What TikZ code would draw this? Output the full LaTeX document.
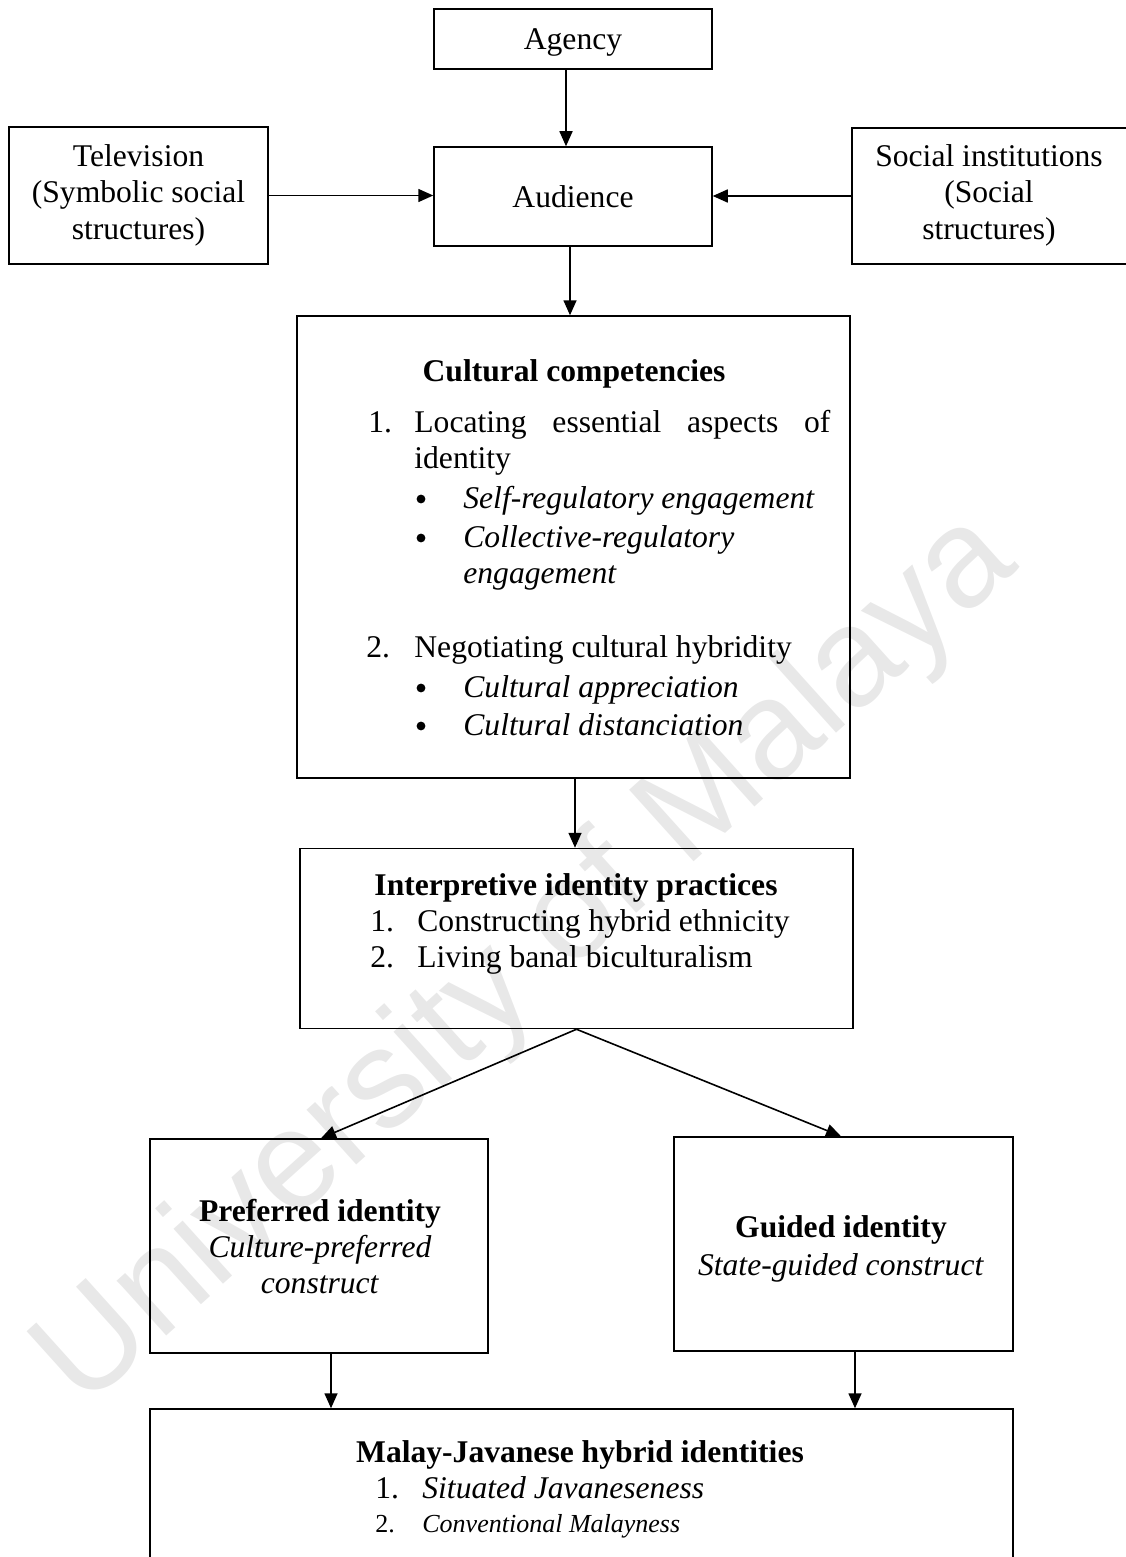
\documentclass[tikz,border=0pt]{standalone}
\usepackage{fontspec}
\setmainfont{Liberation Serif}
\newfontfamily\wmfont{Liberation Sans}
\usetikzlibrary{arrows.meta}
\newcommand\mainfs{\fontsize{15.8}{19}\selectfont}
\newcommand\smallfs{\fontsize{13}{16}\selectfont}
\begin{document}
\begin{tikzpicture}[x=0.5pt,y=-0.5pt,
  box/.style={draw,line width=0.75pt,inner sep=0pt},
  txt/.style={anchor=base,inner sep=0pt,font=\mainfs},
  txtl/.style={anchor=base west,inner sep=0pt,font=\mainfs},
  dot/.style={circle,fill=black,inner sep=0pt,minimum size=4.4pt},
  arr/.style={line width=0.8pt,-{Triangle[length=7.5pt,width=6.5pt]}}
]
\useasboundingbox (0,0) rectangle (1125,1557);

% watermark
\node[rotate=42,inner sep=0pt,text=black!9,font=\wmfont\fontsize{70}{74}\selectfont] (wm) at (528,962) {University of Malaya};

% boxes
\node[box,minimum width=139pt,minimum height=30pt] (agency) at (573,39) {};
\node[box,minimum width=129.5pt,minimum height=68.5pt] (tv) at (138.5,195.5) {};
\node[box,minimum width=139pt,minimum height=49.5pt] (aud) at (573,196.5) {};
\node[box,minimum width=139pt,minimum height=68pt] (soc) at (991,196) {};
\node[box,minimum width=276.5pt,minimum height=231pt] (cult) at (573.5,547) {};
\node[box,minimum width=276.5pt,minimum height=90pt] (interp) at (576.5,938.5) {};
\node[box,minimum width=169pt,minimum height=107pt] (pref) at (319,1246) {};
\node[box,minimum width=169.5pt,minimum height=107pt] (guid) at (843.5,1244) {};
\node[box,minimum width=431.5pt,minimum height=95.5pt] (malay) at (581.5,1504.5) {};

% texts
\node[txt] (agencyT) at (573,50) {Agency};
\node[txt] (audT) at (573,208) {Audience};
\node[txt] (tvA) at (138.5,167) {Television};
\node[txt] (tvB) at (138.5,203) {(Symbolic social};
\node[txt] (tvC) at (138.5,240) {structures)};
\node[txt] (socA) at (989,167) {Social institutions};
\node[txt] (socB) at (989,203) {(Social};
\node[txt] (socC) at (989,240) {structures)};

\node[txt] (cultT) at (574,381) {\textbf{Cultural competencies}};
\node[txtl] (c1n) at (368,432) {1.};
\node[txtl] (c1) at (414,432) {\makebox[208pt][s]{Locating essential aspects of}};
\node[txtl] (c1b) at (414,468) {identity};
\node[dot] (b1) at (421,499) {};
\node[txtl] (c1x) at (463,508) {\textit{Self-regulatory engagement}};
\node[dot] (b2) at (421,538) {};
\node[txtl] (c1y) at (463,547) {\textit{Collective-regulatory}};
\node[txtl] (c1z) at (463,583) {\textit{engagement}};
\node[txtl] (c2n) at (366,657) {2.};
\node[txtl] (c2) at (414,657) {Negotiating cultural hybridity};
\node[dot] (b3) at (421,688) {};
\node[txtl] (c2x) at (463,697) {\textit{Cultural appreciation}};
\node[dot] (b4) at (421,726) {};
\node[txtl] (c2y) at (463,735) {\textit{Cultural distanciation}};

\node[txt] (intT) at (576,895) {\textbf{Interpretive identity practices}};
\node[txtl] (i1n) at (370,931) {1.};
\node[txtl] (i1) at (417,931) {Constructing hybrid ethnicity};
\node[txtl] (i2n) at (370,967) {2.};
\node[txtl] (i2) at (417,967) {Living banal biculturalism};

\node[txt] (prefT) at (320,1221) {\textbf{Preferred identity}};
\node[txt] (prefA) at (320,1257) {\textit{Culture-preferred}};
\node[txt] (prefB) at (320,1293) {\textit{construct}};

\node[txt] (guidT) at (841,1237) {\textbf{Guided identity}};
\node[txt] (guidA) at (841,1275) {\textit{State-guided construct}};

\node[txt] (malT) at (580,1462) {\textbf{Malay-Javanese hybrid identities}};
\node[txtl] (m1n) at (375,1498) {1.};
\node[txtl] (m1) at (422,1498) {\textit{Situated Javaneseness}};
\node[txtl,font=\smallfs] (m2n) at (375,1532) {2.};
\node[txtl,font=\smallfs] (m2) at (422,1532) {\textit{Conventional Malayness}};

% connectors
\draw[arr] ([xshift=-3.5pt]agency.south) -- ([xshift=-3.5pt]aud.north);
\draw[arr] (tv.east) -- (tv.east -| aud.west);
\draw[arr] (soc.west) -- (soc.west -| aud.east);
\draw[arr] ([xshift=-1.5pt]aud.south) -- ([xshift=-1.5pt]aud.south |- cult.north);
\draw[arr] ([xshift=0.75pt]cult.south) -- ([xshift=0.75pt]cult.south |- interp.north);
\draw[arr] (interp.south) -- ([xshift=1pt]pref.north);
\draw[arr] (interp.south) -- ([xshift=-1.25pt]guid.north);
\draw[arr] ([xshift=6pt]pref.south) -- ([xshift=6pt]pref.south |- malay.north);
\draw[arr] ([xshift=5.75pt]guid.south) -- ([xshift=5.75pt]guid.south |- malay.north);
\end{tikzpicture}
\end{document}
